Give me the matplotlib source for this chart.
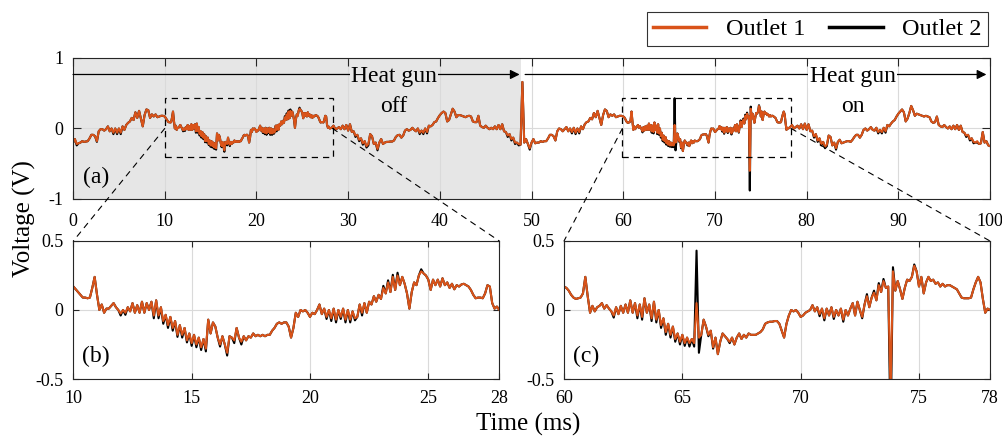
import numpy as np
import matplotlib
matplotlib.use('Agg')
import matplotlib.pyplot as plt
from matplotlib.patches import Rectangle, ConnectionPatch
from matplotlib.lines import Line2D

plt.rcParams['font.family'] = ['Liberation Serif', 'DejaVu Serif']
plt.rcParams['axes.unicode_minus'] = False

# ---------------- data (Outlet 1 voltage, V) ----------------
# segment A: 0.0 .. 9.8 ms, step 0.2 ms
seg_a_start, seg_a_step = 0.0, 0.2
seg_a = [-0.20, -0.15, -0.22, -0.21, -0.20, -0.18, -0.19, -0.185, -0.18, -0.14,
         -0.09, -0.09, -0.11, -0.18, -0.04, -0.01, -0.01, -0.03, -0.01, 0.03,
         -0.04, 0.00, -0.06, 0.00, -0.06, 0.00, -0.06, 0.03, -0.02, 0.05,
         0.08, 0.10, 0.15, 0.12, 0.23, 0.15, 0.25, 0.14, 0.03, 0.19,
         0.27, 0.26, 0.15, 0.20, 0.17, 0.20, 0.16, 0.17, 0.18, 0.18]

# zoom (b): 10.0 .. 28.0 ms, step 0.1 ms
seg_b_start, seg_b_step = 10.0, 0.1
seg_b = [0.17, 0.15, 0.13, 0.11, 0.09, 0.09, 0.085, 0.09, 0.16, 0.24,
         0.11, 0.00, 0.04, -0.02, 0.01, 0.01, 0.03, 0.05, 0.02, 0.00,
         -0.025, 0.00, -0.02, 0.02, -0.01, 0.05, -0.02, 0.035, -0.02, 0.06,
         -0.02, 0.05, 0.00, 0.06, -0.04, 0.07, -0.04, 0.02, -0.08, -0.035,
         -0.11, -0.05, -0.13, -0.08, -0.18, -0.11, -0.18, -0.13, -0.22, -0.17,
         -0.24, -0.18, -0.25, -0.20, -0.27, -0.21, -0.28, -0.07, -0.17, -0.09,
         -0.12, -0.20, -0.25, -0.19, -0.25, -0.31, -0.19, -0.20, -0.22, -0.13,
         -0.20, -0.23, -0.19, -0.22, -0.19, -0.20, -0.17, -0.19, -0.18, -0.19,
         -0.18, -0.19, -0.18, -0.18, -0.15, -0.13, -0.10, -0.09, -0.10, -0.09,
         -0.09, -0.12, -0.20, -0.13, -0.02, -0.05, 0.00, -0.01, 0.00, -0.02,
         -0.05, -0.02, -0.03, 0.00, 0.04, -0.03, 0.01, -0.05, 0.00, -0.06,
         0.01, -0.07, 0.00, -0.05, 0.01, -0.07, 0.00, -0.07, -0.01, -0.06,
         -0.05, 0.04, -0.02, 0.05, -0.02, 0.06, 0.04, 0.10, 0.06, 0.11,
         0.08, 0.16, 0.12, 0.20, 0.13, 0.24, 0.145, 0.25, 0.18, 0.24,
         0.19, 0.12, 0.01, 0.13, 0.20, 0.18, 0.25, 0.28, 0.265, 0.25,
         0.22, 0.145, 0.22, 0.18, 0.22, 0.17, 0.23, 0.18, 0.20, 0.16,
         0.19, 0.15, 0.18, 0.17, 0.185, 0.19, 0.18, 0.17, 0.145, 0.11,
         0.085, 0.09, 0.09, 0.085, 0.12, 0.18, 0.17, 0.05, 0.01, 0.025,
         0.00]

# segment B: 28.2 .. 59.8 ms, step 0.2 ms
seg_bb_start, seg_bb_step = 28.2, 0.2
seg_bb = [0.01, 0.04, -0.01, 0.00, 0.02, -0.01, 0.04, -0.01, 0.05, -0.03,
          0.06, -0.05, -0.04, -0.10, -0.09, -0.16, -0.14, -0.21, -0.18, -0.25,
          -0.22, -0.08, -0.11, -0.22, -0.20, -0.29, -0.20, -0.15, -0.22, -0.20,
          -0.19, -0.19, -0.185, -0.185, -0.17, -0.12, -0.095, -0.09, -0.13, -0.10,
          -0.03, -0.01, -0.03, -0.02, 0.01, -0.02, -0.04, 0.00, -0.06, -0.03,
          -0.06, 0.00, -0.05, 0.04, 0.03, 0.05, 0.09, 0.10, 0.15, 0.19,
          0.22, 0.24, 0.22, 0.10, 0.12, 0.20, 0.28, 0.24, 0.16, 0.19,
          0.19, 0.18, 0.17, 0.16, 0.175, 0.18, 0.17, 0.10, 0.09, 0.09,
          0.18, 0.04, 0.02, 0.01, 0.04, 0.01, -0.01, 0.01, -0.01, 0.03,
          -0.01, 0.05, -0.01, 0.06, -0.04, -0.05, -0.10, -0.08, -0.15, -0.13,
          -0.20, -0.20, -0.22, -0.23, 0.66, -0.20, -0.15, -0.22, -0.28, -0.20,
          -0.15, -0.21, -0.20, -0.20, -0.18, -0.19, -0.18, -0.18, -0.14, -0.09,
          -0.09, -0.11, -0.17, -0.04, 0.00, -0.01, -0.04, -0.01, 0.02, -0.04,
          0.00, -0.05, 0.01, -0.06, 0.00, -0.05, 0.03, -0.01, 0.06, 0.09,
          0.10, 0.15, 0.13, 0.22, 0.16, 0.25, 0.15, 0.05, 0.19, 0.27,
          0.25, 0.16, 0.20, 0.18, 0.20, 0.16, 0.17, 0.18, 0.18]

# zoom (c): 60.0 .. 78.0 ms, step 0.1 ms
seg_c_start, seg_c_step = 60.0, 0.1
seg_c = [0.17, 0.16, 0.14, 0.11, 0.09, 0.08, 0.085, 0.09, 0.12, 0.24,
         0.10, -0.02, 0.03, -0.01, 0.02, 0.03, 0.05, 0.01, 0.035, 0.01,
         -0.01, -0.04, 0.02, -0.03, 0.03, -0.02, 0.04, -0.02, 0.07, -0.02,
         0.05, -0.04, 0.04, -0.05, 0.085, -0.02, 0.04, -0.06, 0.06, -0.07,
         0.00, -0.11, -0.06, -0.16, -0.10, -0.18, -0.12, -0.21, -0.17, -0.23,
         -0.18, -0.24, -0.20, -0.24, -0.21, -0.24, 0.05, -0.20, -0.18, -0.07,
         -0.12, -0.18, -0.15, -0.27, -0.20, -0.32, -0.23, -0.17, -0.19, -0.21,
         -0.23, -0.20, -0.25, -0.20, -0.17, -0.21, -0.18, -0.20, -0.17, -0.18,
         -0.18, -0.18, -0.17, -0.16, -0.14, -0.10, -0.09, -0.085, -0.085, -0.08,
         -0.08, -0.10, -0.15, -0.20, -0.10, -0.04, 0.00, -0.01, 0.00, -0.02,
         -0.05, -0.04, -0.02, -0.01, 0.00, 0.035, -0.01, 0.02, -0.03, 0.01,
         -0.06, 0.01, -0.04, 0.02, -0.05, 0.00, -0.04, 0.01, -0.07, 0.00,
         -0.04, 0.01, 0.05, -0.04, 0.06, 0.00, -0.05, 0.04, 0.10, 0.02,
         0.09, 0.125, 0.07, 0.18, 0.13, 0.21, 0.16, 0.17, -0.60, 0.28,
         0.14, 0.21, 0.15, 0.08, 0.16, 0.22, 0.21, 0.24, 0.32, 0.28,
         0.17, 0.24, 0.12, 0.20, 0.24, 0.21, 0.22, 0.19, 0.20, 0.17,
         0.19, 0.17, 0.18, 0.18, 0.17, 0.16, 0.15, 0.12, 0.09, 0.085,
         0.085, 0.085, 0.09, 0.15, 0.20, 0.24, 0.20, 0.08, -0.02, 0.01,
         0.00]

# segment C: 78.2 .. 100.0 ms, step 0.2 ms
seg_cc_start, seg_cc_step = 78.2, 0.2
seg_cc = [0.02, 0.05, 0.00, 0.02, 0.04, 0.00, 0.06, -0.01, 0.07, -0.02,
          0.06, -0.04, -0.03, -0.11, -0.08, -0.17, -0.14, -0.22, -0.19, -0.26,
          -0.23, -0.10, -0.12, -0.24, -0.20, -0.28, -0.19, -0.16, -0.21, -0.20,
          -0.19, -0.18, -0.18, -0.19, -0.16, -0.12, -0.09, -0.09, -0.13, -0.09,
          -0.02, 0.00, -0.03, -0.01, 0.02, -0.02, -0.03, 0.01, -0.05, -0.02,
          -0.05, 0.01, -0.04, 0.05, 0.03, 0.07, 0.10, 0.12, 0.17, 0.21,
          0.24, 0.27, 0.23, 0.10, 0.14, 0.22, 0.32, 0.26, 0.18, 0.21,
          0.20, 0.19, 0.18, 0.17, 0.18, 0.17, 0.16, 0.10, 0.08, 0.09,
          0.17, 0.05, 0.03, 0.02, 0.05, 0.02, 0.00, 0.03, -0.01, 0.04,
          -0.01, 0.05, -0.02, 0.04, -0.05, -0.06, -0.10, -0.09, -0.15, -0.14,
          -0.19, -0.20, -0.18, -0.22, -0.21, -0.05, -0.20, -0.18, -0.24, -0.25]

# Outlet 2 = Outlet 1 plus these deviations (ms, V)
dev_t = [0.4, 2.6, 4.4, 4.8, 5.2,
         12.0, 12.2, 13.4, 13.6, 13.8, 14.0, 14.2, 14.4, 14.6, 14.8,
         15.0, 15.2, 15.4, 15.6, 16.2, 16.5, 16.8, 17.1,
         20.7, 20.9, 21.1, 21.3, 21.5, 21.7, 21.9, 22.2,
         23.1, 23.3, 23.5, 23.7, 24.7,
         30.8, 31.2, 31.6, 32.0, 32.2, 33.2, 37.8, 38.2, 38.6,
         47.4, 47.8, 48.2, 48.6, 49.8, 54.4, 54.8, 55.2,
         62.1, 63.1, 63.3, 63.7, 63.9, 64.1, 64.3, 64.5, 64.7, 64.9,
         65.1, 65.3, 65.5, 65.6, 65.7, 66.1, 66.3, 67.0, 70.8, 71.0,
         71.4, 71.8, 72.6, 72.8, 73.1, 73.3, 73.5, 73.8, 73.9, 74.8,
         80.8, 81.2, 81.6, 82.0, 82.2, 83.2, 87.8, 88.2, 88.6,
         97.4, 97.8, 98.2, 98.6]
dev_v = [-0.02, -0.01, -0.02, -0.02, -0.02,
         -0.015, -0.015, -0.02, -0.02, -0.02, -0.02, -0.02, -0.015, -0.02, -0.015,
         -0.02, -0.02, -0.02, -0.02, -0.015, -0.02, -0.02, -0.02,
         -0.015, -0.02, -0.02, -0.015, -0.02, -0.02, -0.015, -0.02,
         0.015, 0.015, 0.015, 0.02, 0.015,
         -0.02, -0.02, -0.02, -0.02, -0.02, -0.02, -0.02, -0.02, -0.02,
         -0.02, -0.02, -0.02, -0.02, -0.02, -0.02, -0.02, -0.02,
         -0.015, -0.02, -0.02, -0.02, -0.02, -0.02, -0.02, -0.02, -0.02, -0.02,
         -0.02, -0.025, -0.025, 0.38, -0.11, -0.01, -0.01, -0.01, -0.015, -0.015,
         -0.015, -0.015, -0.01, 0.015, 0.015, 0.015, 0.015, -0.28, 0.03, 0.01,
         -0.02, -0.02, -0.02, -0.02, -0.02, -0.02, -0.02, -0.02, -0.02,
         -0.02, -0.02, -0.02, -0.02]

main_xticks = list(range(0, 101, 10))
main_yticks = [-1, 0, 1]
zoom_b_xticks = [10, 15, 20, 25, 28]
zoom_c_xticks = [60, 65, 70, 75, 78]
zoom_yticks = [-0.5, 0, 0.5]
zoom_yticklabels = ['-0.5', '0', '0.5']

# ---------------- assemble ----------------
def seg_times(start, step, n):
    return np.round(start + step * np.arange(n), 1)

segments = [(seg_a_start, seg_a_step, seg_a), (seg_b_start, seg_b_step, seg_b),
            (seg_bb_start, seg_bb_step, seg_bb), (seg_c_start, seg_c_step, seg_c),
            (seg_cc_start, seg_cc_step, seg_cc)]
t = np.concatenate([seg_times(s, d, len(v)) for s, d, v in segments])
v1 = np.concatenate([np.array(v, float) for _, _, v in segments])
order = np.argsort(t, kind='stable')
t, v1 = t[order], v1[order]
v2 = v1.copy()
for tt, dd in zip(dev_t, dev_v):
    idx = np.where(np.isclose(t, tt))[0]
    v2[idx] += dd

# ---------------- figure ----------------
orange = '#D95319'
spine_c = '#262626'
shade = '#e6e6e6'

fig = plt.figure(figsize=(10.02, 4.38), dpi=100)
ax = fig.add_axes([0.0729, 0.5457, 0.9152, 0.3219])
axb = fig.add_axes([0.0732, 0.1347, 0.4251, 0.3151])
axc = fig.add_axes([0.5629, 0.1347, 0.4251, 0.3151])

for a in (ax, axb, axc):
    a.plot(t, v2, color='k', lw=1.5, zorder=3)
    a.plot(t, v1, color=orange, lw=1.5, zorder=4)
    a.grid(True, color='#dadada', lw=0.8)
    a.set_axisbelow(True)
    for s in a.spines.values():
        s.set_linewidth(0.8)
        s.set_color(spine_c)
        s.set_zorder(5)

ax.tick_params(direction='in', top=True, right=True, length=6, width=0.8,
               color=spine_c, labelsize=13)
ax.tick_params(axis='x', pad=10)
ax.tick_params(axis='y', pad=7)
for a in (axb, axc):
    a.tick_params(direction='in', top=True, right=True, length=4, width=0.8,
                  color=spine_c, labelsize=13)
    a.tick_params(axis='x', pad=8)
    a.tick_params(axis='y', pad=7)

ax.set_xlim(0, 100)
ax.set_ylim(-1, 1)
ax.set_xticks(main_xticks)
ax.set_yticks(main_yticks)
ax.axvspan(0, 48.9, color=shade, lw=0, zorder=0.1)

axb.set_xlim(10, 28)
axc.set_xlim(60, 78)
for a, xt in ((axb, zoom_b_xticks), (axc, zoom_c_xticks)):
    a.set_ylim(-0.5, 0.5)
    a.set_xticks(xt)
    a.set_yticks(zoom_yticks)
    a.set_yticklabels(zoom_yticklabels)

# arrows and annotations
ay = 0.766
ax.annotate('', xy=(48.7, ay), xytext=(0, ay),
            arrowprops=dict(arrowstyle='-|>', color='k', lw=0.9,
                            mutation_scale=14, shrinkA=0, shrinkB=0), zorder=6)
ax.annotate('', xy=(99.6, ay), xytext=(49.3, ay),
            arrowprops=dict(arrowstyle='-|>', color='k', lw=0.9,
                            mutation_scale=14, shrinkA=0, shrinkB=0), zorder=6)
ax.text(35, 0.665, 'Heat gun', ha='center', va='baseline', fontsize=17, zorder=7,
        bbox=dict(facecolor=shade, edgecolor='none', pad=1))
ax.text(35, 0.24, 'off', ha='center', va='baseline', fontsize=17, zorder=7)
ax.text(85, 0.665, 'Heat gun', ha='center', va='baseline', fontsize=17, zorder=7,
        bbox=dict(facecolor='white', edgecolor='none', pad=1))
ax.text(85, 0.24, 'on', ha='center', va='baseline', fontsize=17, zorder=7)

ax.text(0.011, 0.155, '(a)', transform=ax.transAxes, fontsize=17, va='center', zorder=7)
axb.text(0.02, 0.16, '(b)', transform=axb.transAxes, fontsize=17, va='center', zorder=7)
axc.text(0.02, 0.16, '(c)', transform=axc.transAxes, fontsize=17, va='center', zorder=7)

# dashed zoom boxes
for x0, w in ((10.0, 18.3), (59.9, 18.4)):
    ax.add_patch(Rectangle((x0, -0.41), w, 0.845, fill=False, ls=(0, (5, 4)),
                           lw=0.9, ec='k', zorder=6))

# connectors
for (xa, ya), axz, (xb, yb) in (((10.0, 0), axb, (0, 1)), ((28.3, 0), axb, (1, 1)),
                                ((59.9, 0), axc, (0, 1)), ((78.3, 0), axc, (1, 1))):
    con = ConnectionPatch(xyA=(xa, ya), coordsA=ax.transData,
                          xyB=(xb, yb), coordsB=axz.transAxes,
                          ls=(0, (5, 5)), lw=0.8, color='k', zorder=8)
    fig.add_artist(con)

fig.text(0.024, 0.5, 'Voltage (V)', rotation=90, ha='center', va='center', fontsize=18)
fig.text(0.527, 0.032, 'Time (ms)', ha='center', va='center', fontsize=18)

handles = [Line2D([], [], color=orange, lw=2.5), Line2D([], [], color='k', lw=2.5)]
leg = fig.legend(handles, ['Outlet 1', 'Outlet 2'], loc='upper right',
                 bbox_to_anchor=(0.986, 0.972), ncol=2, frameon=True, fontsize=17.5,
                 handlelength=2.2, columnspacing=1.0, handletextpad=0.8,
                 borderpad=0.25, borderaxespad=0, fancybox=False)
leg.get_frame().set_edgecolor('k')
leg.get_frame().set_linewidth(0.8)

fig.savefig('out.png', dpi=100)
